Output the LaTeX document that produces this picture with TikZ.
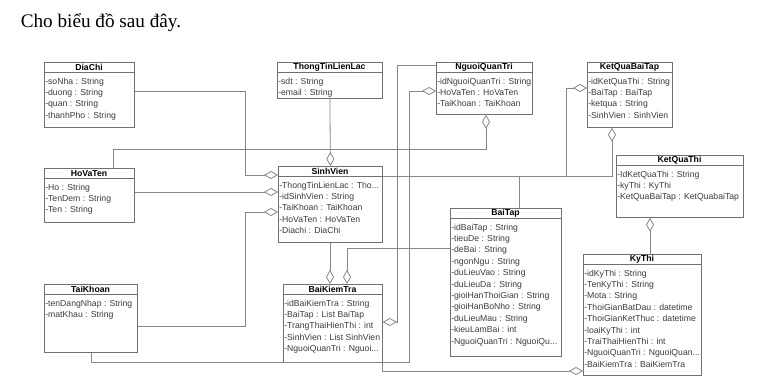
\documentclass[tikz,border=0pt]{standalone}
\usepackage{fontspec}
\setmainfont{Liberation Sans}
\newfontfamily\titlefont{Liberation Serif}
\usetikzlibrary{arrows.meta}

\begin{document}
\begin{tikzpicture}[x=0.75pt, y=-0.75pt]
  % Define colors
  \definecolor{boxgray}{RGB}{112,112,112}
  \definecolor{linegray}{RGB}{135,135,135}
  \definecolor{attrgray}{RGB}{60,60,60}

  % Styles
  \tikzstyle{classbox} = [draw=boxgray, line width=0.6pt, fill=white, inner sep=0pt]
  \tikzstyle{sepline} = [draw=boxgray, line width=0.6pt]
  \tikzstyle{classtitle} = [font=\fontsize{6.5}{8}\selectfont\bfseries, text=black, inner sep=0pt]
  \tikzstyle{classattr} = [font=\fontsize{6.5}{8.55}\selectfont, text=attrgray, align=left, anchor=north west, inner sep=0pt]
  \tikzstyle{agg} = [draw=linegray, line width=0.6pt, -{Diamond[open, length=10.5pt, width=6pt]}]

  % Class box: name, left, top, right, bottom, title, attributes
  \newcommand{\umlclass}[7]{%
    \node[classbox, minimum width={(#4-#2)*0.75pt}, minimum height={(#5-#3)*0.75pt}, anchor=north west] (#1) at (#2,#3) {};
    \node[classtitle] at ({(#2+#4)/2},{#3+5.5}) {#6};
    \draw[sepline] (#2,{#3+10.5}) -- (#4,{#3+10.5});
    \node[classattr] at ({#2+1},{#3+15.5}) {#7};
  }

  % Canvas
  \fill[white] (0,0) rectangle (777,388);
  \useasboundingbox (0,0) rectangle (777,388);

  % Title
  \node[anchor=base west, font=\titlefont\fontsize{14.4}{16}\selectfont, inner sep=0pt] (title) at (20.5,28) {Cho biểu đồ sau đây.};

  % Classes
  \umlclass{diachi}{44}{62}{134}{127}{DiaChi}{-soNha : String\\-duong : String\\-quan : String\\-thanhPho : String}
  \umlclass{ttll}{277}{62}{382}{98}{ThongTinLienLac}{-sdt : String\\-email : String}
  \umlclass{nqt}{436}{62}{532}{114}{NguoiQuanTri}{-idNguoiQuanTri : String\\-HoVaTen : HoVaTen\\-TaiKhoan : TaiKhoan}
  \umlclass{kqbt}{587}{62}{672}{127}{KetQuaBaiTap}{-idKetQuaThi : String\\-BaiTap : BaiTap\\-ketqua : String\\-SinhVien : SinhVien}
  \umlclass{hovaten}{44}{168}{134}{222}{HoVaTen}{-Ho : String\\-TenDem : String\\-Ten : String}
  \umlclass{sinhvien}{278}{166}{382}{242}{SinhVien}{-ThongTinLienLac : Tho...\\-idSinhVien : String\\-TaiKhoan : TaiKhoan\\-HoVaTen : HoVaTen\\-Diachi : DiaChi}
  \umlclass{kqt}{616}{155}{743}{217}{KetQuaThi}{-IdKetQuaThi : String\\-kyThi : KyThi\\-KetQuaBaiTap : KetQuabaiTap}
  \umlclass{baitap}{450}{208}{561}{356}{BaiTap}{-idBaiTap : String\\-tieuDe : String\\-deBai : String\\-ngonNgu : String\\-duLieuVao : String\\-duLieuDa : String\\-gioiHanThoiGian : String\\-gioiHanBoNho : String\\-duLieuMau : String\\-kieuLamBai : int\\-NguoiQuanTri : NguoiQu...}
  \umlclass{taikhoan}{44}{284}{137}{352}{TaiKhoan}{-tenDangNhap : String\\-matKhau : String}
  \umlclass{bkt}{283}{284}{382}{362}{BaiKiemTra}{-idBaiKiemTra : String\\-BaiTap : List BaiTap\\-TrangThaiHienThi : int\\-SinhVien : List SinhVien\\-NguoiQuanTri : Nguoi...}
  \umlclass{kythi}{583}{254}{701}{375}{KyThi}{-idKyThi : String\\-TenKyThi : String\\-Mota : String\\-ThoiGianBatDau : datetime\\-ThoiGianKetThuc : datetime\\-loaiKyThi : int\\-TraiThaiHienThi : int\\-NguoiQuanTri : NguoiQuan...\\-BaiKiemTra : BaiKiemTra}

  % Aggregations into SinhVien
  \draw[agg] (diachi.east |- 0,91) -| (245,175) -- (sinhvien.west |- 0,175);
  \draw[agg] (hovaten.east |- 0,192) -- (sinhvien.west |- 0,192);
  \draw[agg] (taikhoan.east |- 0,326) -| (245,212) -- (sinhvien.west |- 0,212);
  \draw[agg] (ttll.south) -- (sinhvien.north);

  % Aggregations into NguoiQuanTri
  \draw[agg] (hovaten.north -| 113,0) |- (486,149.5) -- (nqt.south -| 486,0);
  \draw[agg] (taikhoan.south) |- (409,362) |- (nqt.west |- 0,91);

  % Aggregations into BaiKiemTra
  \draw[agg] (nqt.west |- 0,65) -| (397,322) -- (bkt.east |- 0,322);
  \draw[agg] (sinhvien.south -| 330,0) -- (bkt.north -| 330,0);
  \draw[agg] (baitap.west |- 0,248) -| (bkt.north -| 347,0);

  % Aggregations into KetQuaBaiTap
  \draw[agg] (sinhvien.east |- 0,176) -| (kqbt.south -| 612,0);
  \draw[agg] (baitap.north -| 519,0) |- (566,176) |- (kqbt.west |- 0,88);

  % Aggregations into KetQuaThi and KyThi
  \draw[agg] (kythi.north -| 650,0) -- (kqt.south -| 650,0);
  \draw[agg] (bkt.south east) |- (kythi.west |- 0,371);
\end{tikzpicture}
\end{document}
